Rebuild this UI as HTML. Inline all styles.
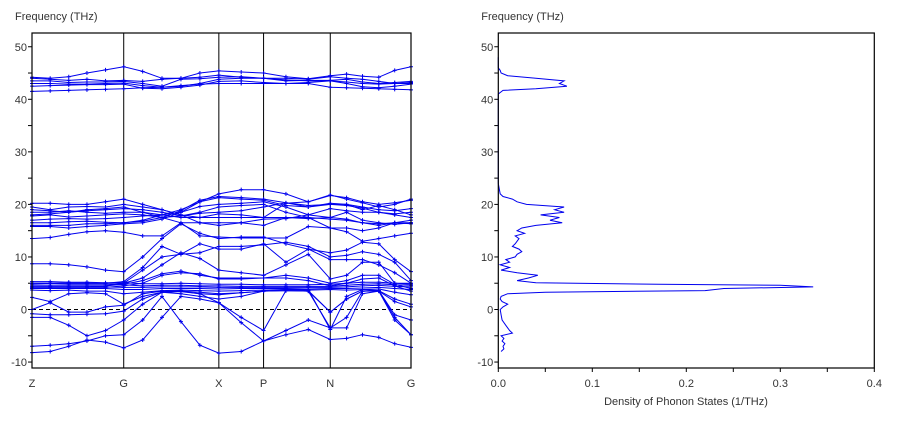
<!DOCTYPE html>
<html><head><meta charset="utf-8">
<style>
html,body{margin:0;padding:0;background:#fff;}
svg{display:block;font-family:"Liberation Sans",sans-serif;}
</style></head>
<body>
<svg id="chart" width="902" height="426" viewBox="0 0 902 426" xmlns="http://www.w3.org/2000/svg">
  <rect width="902" height="426" fill="#fff"/>
  <g id="band"></g>
  <g id="dos"></g>
</svg>
<script>
const kpts = [0,0.048,0.097,0.145,0.194,0.242,0.292,0.343,0.393,0.443,0.493,0.552,0.611,0.67,0.729,0.787,0.83,0.872,0.915,0.957,1.0];
const kLabels = ["Z","G","X","P","N","G"];
const kLabelPos = [0,0.242,0.493,0.611,0.787,1.0];
const yTicks = [50,40,30,20,10,0,-10];
const dosTicks = [0.0,0.1,0.2,0.3,0.4];
const bands = [
[41.5,41.6,41.7,41.8,41.9,42.0,42.2,42.3,42.6,42.9,43.0,43.0,43.0,43.0,43.0,42.3,42.2,42.1,42.0,41.9,41.8],
[42.5,42.6,42.7,42.8,42.8,42.9,42.1,42.0,42.3,42.7,43.4,43.5,43.2,43.0,43.2,43.5,43.0,42.4,42.2,42.5,42.9],
[43.0,43.0,42.9,42.9,43.0,43.1,42.6,42.3,42.5,43.0,43.8,44.0,44.0,43.7,43.5,43.5,43.3,43.0,42.9,43.0,43.2],
[43.5,43.5,43.2,43.3,43.3,43.4,43.0,42.5,43.8,43.9,44.2,44.3,44.0,43.5,43.6,43.6,43.8,43.3,43.0,43.2,43.4],
[44.0,43.8,43.6,43.8,43.5,43.6,43.4,43.8,44.0,44.2,44.6,44.2,44.0,44.0,43.8,44.3,44.0,43.8,43.4,43.0,43.0],
[44.2,44.0,44.3,45.0,45.6,46.2,45.3,44.0,44.0,45.0,45.4,45.2,45.0,44.3,43.9,44.5,44.8,44.4,44.2,45.5,46.2],
[15.8,15.8,15.5,15.8,16.0,16.3,16.5,17.2,18.5,20.5,22.0,22.8,22.8,22.0,20.5,21.7,21.3,20.5,20.0,20.3,20.8],
[16.0,16.0,16.0,16.3,16.3,16.5,16.8,17.5,18.8,20.8,21.5,21.3,21.0,20.3,19.8,20.0,20.0,19.5,19.0,18.8,19.2],
[16.5,16.5,16.7,16.8,16.6,16.5,17.0,18.0,19.0,20.5,21.3,21.0,20.8,19.8,19.5,20.0,19.8,19.3,18.5,18.2,18.5],
[17.0,17.2,17.3,17.2,17.3,17.5,17.8,18.0,18.5,19.6,20.0,20.2,20.5,19.5,18.0,17.5,17.2,16.5,16.3,16.5,17.0],
[17.8,18.0,17.6,17.8,18.0,18.2,18.0,17.5,17.8,18.5,19.5,19.8,20.0,18.5,17.5,17.2,17.0,16.5,16.0,16.5,16.5],
[18.5,18.5,18.8,18.5,18.3,18.5,18.5,18.0,17.5,17.5,18.2,18.0,17.5,17.5,17.3,17.5,18.5,17.0,16.5,16.2,16.5],
[19.0,18.8,18.5,19.0,19.2,19.5,18.5,17.5,16.5,16.5,16.5,16.5,17.2,17.3,18.0,19.2,18.8,18.5,18.5,18.0,17.5],
[19.5,19.0,19.5,19.6,19.5,20.0,19.5,19.0,18.0,16.5,16.0,16.5,16.0,17.5,17.5,15.5,15.5,15.0,15.5,16.5,16.3],
[20.2,20.2,20.0,20.0,20.5,21.0,20.0,19.0,18.0,17.5,17.5,17.5,17.5,20.2,20.5,21.8,21.0,20.3,19.5,20.0,21.0],
[18.0,18.2,18.5,18.8,19.0,19.2,19.0,18.5,17.8,18.3,18.5,18.8,19.5,20.3,19.5,20.2,20.0,19.0,19.8,19.0,18.0],
[13.5,13.7,14.3,14.8,15.0,14.7,14.0,14.0,16.5,14.0,13.8,13.6,13.6,13.6,15.8,15.5,14.8,13.0,13.5,14.0,14.5],
[8.7,8.7,8.5,8.1,7.5,7.2,10.0,13.5,16.3,14.5,13.5,13.8,13.8,12.5,11.5,10.8,11.3,12.8,12.5,9.5,7.2],
[5.0,5.0,5.0,5.0,5.0,5.3,8.0,12.0,10.5,10.8,12.0,12.0,12.3,12.8,12.0,10.0,10.3,11.0,10.5,9.0,5.5],
[5.0,5.0,5.0,5.0,5.0,5.0,7.5,10.0,10.5,12.5,11.5,11.5,12.5,9.0,11.5,9.5,9.5,9.5,8.5,7.0,5.0],
[4.5,4.5,4.5,4.5,4.5,5.0,6.0,8.5,10.8,9.7,7.5,7.0,6.5,8.5,10.5,5.8,6.5,9.0,9.0,5.0,4.8],
[4.5,4.5,4.5,4.5,4.5,4.8,5.5,6.8,7.3,6.5,6.0,6.0,6.0,6.5,6.0,5.0,5.5,6.5,6.5,4.8,4.0],
[4.2,4.2,4.2,4.2,4.2,4.5,5.0,6.5,7.0,6.8,5.8,5.8,6.0,6.0,5.5,4.5,5.0,5.8,6.0,4.5,3.5],
[5.3,5.3,5.2,5.2,5.1,5.1,4.9,4.9,5.0,4.9,4.8,4.8,4.7,4.7,4.7,4.8,5.0,5.2,5.2,5.0,5.0],
[4.8,4.9,4.8,4.8,4.8,4.7,4.5,4.6,4.6,4.5,4.5,4.4,4.4,4.4,4.4,4.4,4.6,4.8,4.9,4.7,4.6],
[4.4,4.4,4.4,4.4,4.3,4.2,4.2,4.3,4.3,4.3,4.2,4.2,4.2,4.2,4.2,4.2,4.3,4.5,4.6,4.4,4.3],
[4.0,4.0,4.0,4.0,4.0,3.8,3.8,4.0,4.0,4.0,3.9,4.0,4.0,4.0,3.9,4.0,4.0,4.1,4.2,4.0,3.8],
[3.7,3.6,3.7,3.5,3.5,3.0,3.3,3.6,3.7,3.6,3.5,3.6,3.7,3.8,3.7,3.8,3.7,3.8,3.9,3.3,2.8],
[2.3,1.5,3.0,3.2,3.0,1.0,2.5,3.3,3.4,3.0,2.8,3.2,3.5,3.6,3.5,-3.5,-1.5,3.5,3.6,2.0,1.0],
[0.0,1.3,-0.5,-0.5,0.5,0.8,3.0,3.5,3.5,3.0,1.3,-1.5,-4.0,3.6,3.5,-0.5,2.0,3.5,3.5,1.5,0.5],
[-0.8,-1.0,-1.0,-0.9,-0.8,-0.3,2.0,3.3,3.0,2.5,2.0,2.5,3.5,3.8,3.8,-3.8,2.5,3.8,3.6,-1.0,-2.0],
[-7.0,-6.8,-6.5,-6.0,-5.0,-4.8,-2.0,2.5,-2.3,-6.8,-8.3,-8.0,-6.0,-4.8,-3.8,-5.7,-5.5,-4.8,-5.3,-6.5,-7.2],
[-8.2,-8.0,-7.0,-5.8,-6.2,-7.3,-5.8,-1.5,2.5,2.0,1.3,-2.5,-6.0,-4.0,-2.0,-3.5,-3.5,3.0,3.5,-2.0,-4.8],
[-1.5,-1.5,-3.0,-5.0,-4.0,-2.0,1.0,3.3,3.5,3.3,3.0,3.2,3.5,3.6,3.6,-0.5,2.0,3.5,3.6,-1.5,-4.8]
];
const dosFreq = [-8,-7.5,-7,-6.5,-6,-5.5,-5,-4.5,-4,-3.5,-3,-2,-1,0,0.5,1,1.5,2,2.5,3,3.3,3.6,4.0,4.3,4.6,4.8,5.1,5.5,6,6.5,7,7.5,8,8.5,9,9.5,10,10.5,11,11.5,12,12.5,13,13.5,14,14.5,15,15.5,16,16.5,17,17.5,18,18.5,19,19.5,20,20.5,21,21.5,22,23,24,41,41.7,42,42.5,43,43.5,44,44.5,45,45.5,46,48];
const dosVal  = [0.003,0.006,0.005,0.007,0.004,0.006,0.003,0.015,0.012,0.01,0.008,0.004,0.003,0.002,0.005,0.01,0.004,0.002,0.003,0.01,0.05,0.22,0.24,0.335,0.3,0.17,0.04,0.02,0.032,0.042,0.02,0.003,0.012,0.002,0.012,0.008,0.018,0.02,0.025,0.022,0.015,0.018,0.02,0.022,0.018,0.028,0.02,0.025,0.04,0.068,0.055,0.065,0.045,0.07,0.06,0.07,0.03,0.02,0.015,0.005,0.002,0.001,0,0,0.005,0.04,0.073,0.065,0.07,0.04,0.01,0.003,0.002,0,0];

const NS="http://www.w3.org/2000/svg";
function mk(tag, attrs, parent){const e=document.createElementNS(NS,tag);for(const k in attrs)e.setAttribute(k,attrs[k]);parent.appendChild(e);return e;}
const plotTop=33, plotBot=368;
function yv(f){return 309.5-(f)*5.255;}
const L0=32, L1=411;
function xk(k){return L0+k*(L1-L0);}
const bg=document.getElementById('band');
const dg=document.getElementById('dos');

function axisY(g, x0, prefix){
  yTicks.forEach(t=>{
    const tl=mk('text',{x:x0-5,y:yv(t)+4,'text-anchor':'end','font-size':'11',fill:'#333'},g);
    tl.textContent=t;
    
    
  });
  for(let t=-10;t<=50;t+=5){
    const tk=mk('line',{x1:x0-4,x2:x0,y1:yv(t),y2:yv(t),stroke:'#000','stroke-width':1},g);
    
    
  }
  const tt=mk('text',{x:x0-17,y:20,'font-size':'11',fill:'#333'},g);
  tt.textContent='Frequency (THz)';
  
  
}
axisY(bg,L0,'band-');
const zl=mk('line',{x1:L0,x2:L1,y1:yv(0),y2:yv(0),stroke:'#000','stroke-dasharray':'4,3','stroke-width':1},bg);


kLabelPos.forEach((k,i)=>{
  if(i>0&&i<kLabelPos.length-1){
    const vl=mk('line',{x1:xk(k),x2:xk(k),y1:plotTop,y2:plotBot,stroke:'#000','stroke-width':1},bg);
    
    
  }
  const lb=mk('text',{x:xk(k),y:387,'text-anchor':'middle','font-size':'11',fill:'#333'},bg);
  lb.textContent=kLabels[i];
  
  
});
bands.forEach((b,bi)=>{
  const pts=b.map((v,i)=>xk(kpts[i]).toFixed(1)+','+yv(v).toFixed(1)).join(' ');
  const pl=mk('polyline',{points:pts,fill:'none',stroke:'#0000ee','stroke-width':1},bg);
  
  
  let d='';
  b.forEach((v,i)=>{const x=xk(kpts[i]),y=yv(v);d+=`M${x-2},${y}h4M${x},${y-2}v4`;});
  const mp=mk('path',{d:d,stroke:'#0000ee','stroke-width':1,fill:'none'},bg);
  
  
});
const bf=mk('rect',{x:L0,y:plotTop,width:L1-L0,height:plotBot-plotTop,fill:'none',stroke:'#000','stroke-width':1.2},bg);



const R0=498.3, R1=874.3;
function xd(v){return R0+v/0.4*(R1-R0);}
axisY(dg,R0,'dos-');
dosTicks.forEach(t=>{
  const lb=mk('text',{x:xd(t),y:387,'text-anchor':'middle','font-size':'11',fill:'#333'},dg);
  lb.textContent=t.toFixed(1);
  
  
});
for(let t=0;t<=0.4001;t+=0.05){
  const tk=mk('line',{x1:xd(t),x2:xd(t),y1:plotBot,y2:plotBot+4,stroke:'#000'},dg);
  
  
}
const xt=mk('text',{x:686,y:405,'text-anchor':'middle','font-size':'11',fill:'#333'},dg);
xt.textContent='Density of Phonon States (1/THz)';


let dp=[];
dosFreq.forEach((f,i)=>{dp.push(xd(dosVal[i]).toFixed(1)+','+yv(f).toFixed(1));});
const dl=mk('polyline',{points:dp.join(' '),fill:'none',stroke:'#0000ee','stroke-width':1},dg);


const df=mk('rect',{x:R0,y:plotTop,width:R1-R0,height:plotBot-plotTop,fill:'none',stroke:'#000','stroke-width':1.2},dg);


</script>
</body></html>
